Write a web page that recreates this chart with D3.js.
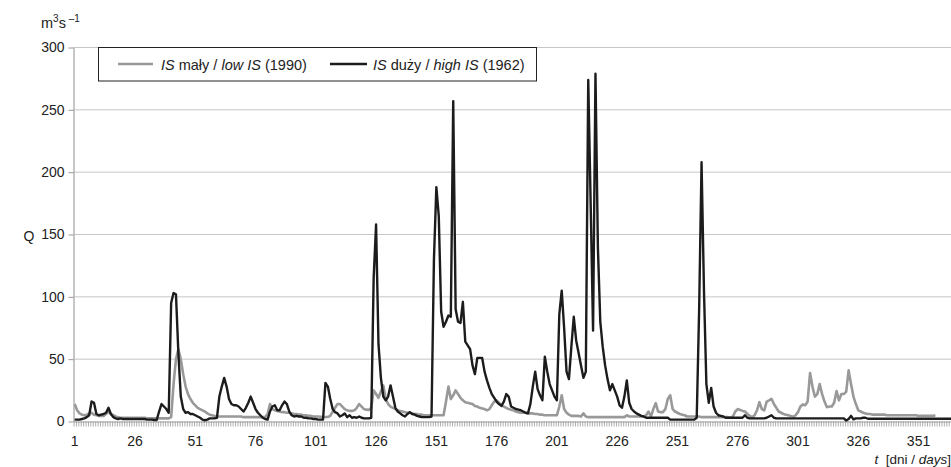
<!DOCTYPE html>
<html>
<head>
<meta charset="utf-8">
<script src="https://cdn.jsdelivr.net/npm/d3@7"></script>
<style>
  body { margin: 0; background: #fff; }
  svg { display: block; font-family: Arial, "Liberation Sans", sans-serif; }
</style>
</head>
<body>
<svg width="951" height="467"></svg>
<script>
// daily discharge Q [m3/s], day 1..n
// IS maly / low IS (1990)
const lowIS = [
  14, 9, 6.5, 5.5, 5, 5.5, 6.5, 7, 5.5, 5,
  4.5, 4.5, 4.5, 6, 8, 6, 5, 4, 3.5, 3,
  3, 3, 3, 3, 3, 3, 3, 3, 3, 3,
  2.5, 2.5, 2.5, 2.5, 2.5, 2.5, 2.5, 2.5, 2.5, 2.5,
  3.5, 30, 50, 58, 50, 38, 28, 22, 18, 15,
  13, 11, 10, 9, 8, 6.5, 5.5, 5, 4.5, 4,
  4, 4, 4, 4, 4, 4, 4, 4, 4, 4,
  3.5, 3.5, 3.5, 3.5, 3.5, 3.5, 3.5, 3.5, 3.5, 3.5,
  6, 14, 10, 9, 8.5, 8, 7.5, 7.5, 7, 7,
  6.5, 6, 6, 5.5, 5.5, 5, 5, 4.5, 4.5, 4,
  4, 4, 3.8, 3.6, 3.6, 3.6, 4.5, 8, 11, 14,
  14, 12, 10, 9, 8.5, 8.5, 9, 11, 14, 12,
  10, 9.5, 9.3, 11, 25, 22, 19, 24, 29, 18,
  14, 12, 11, 10, 9, 8.5, 8, 7.5, 7, 7,
  6.5, 6, 6, 5.5, 5.5, 5, 5, 5, 5, 5,
  5, 5, 5, 5, 16, 28, 18, 21, 25, 22,
  19, 17, 15.5, 15, 14.5, 14, 12.5, 12, 11, 10.5,
  10, 9, 10, 13, 16, 17, 15, 13, 12, 11,
  10, 9.5, 9, 8, 7.5, 7, 7, 7, 6.5, 6.5,
  6.5, 6, 6, 5.5, 5.5, 5, 5, 5, 5, 5,
  5, 12, 21, 10, 7, 5.5, 4.5, 4.5, 4.5, 4.5,
  4, 6.5, 4, 3.5, 3.5, 3.5, 3.5, 3.5, 3.5, 3.5,
  3.5, 3.5, 3.5, 3.5, 3.5, 3.5, 3.5, 3.5, 3.5, 5,
  4, 4, 4, 4, 4, 4, 4, 5, 8, 4,
  10, 14.7, 8, 7.5, 7.5, 10, 18, 21, 10, 8,
  7, 6, 5.5, 5, 4, 4, 4, 4, 4, 4,
  3.5, 3.5, 3.5, 3.5, 3.5, 3.5, 3.5, 3.5, 3.5, 3.5,
  3.5, 3.5, 3, 4, 8, 10, 9.3, 8.5, 8, 6,
  4.5, 3.5, 5, 9, 15.5, 10, 9, 16, 17, 18.2,
  14, 11, 8, 7, 6, 5.5, 5, 4.5, 3.7, 5,
  7.5, 12, 13.7, 13, 16, 38.9, 28, 20, 22, 30,
  22, 16, 11.5, 12, 12, 15, 24.4, 17, 22, 22,
  24, 41, 30, 20, 14, 9, 8, 7, 6.5, 6,
  6, 5.5, 5.5, 5.5, 5.5, 5.5, 5.5, 5, 5, 5,
  5, 5, 5, 5, 5, 5, 5, 5, 5, 5,
  4.5, 4.5, 4.5, 4.5, 4.5, 4.5, 4.5, 5
];

// IS duzy / high IS (1962)
const highIS = [
  1.5, 1.5, 1.5, 2, 2.5, 3.5, 5, 16, 15, 6,
  5, 5.5, 6, 7, 11, 6, 3.5, 2.5, 2, 2.5,
  2, 2, 2, 2, 2, 2, 2, 2, 2, 2,
  1.5, 1.5, 1.5, 1.2, 1.2, 8, 14, 12, 10, 7,
  95, 103, 102, 55, 20, 10, 7, 7.5, 6, 6,
  5, 4, 3, 1.5, 1, 1.5, 2.5, 2.5, 2.5, 3,
  20, 28, 35, 28, 18, 14, 13, 13, 12, 10,
  8, 11, 15, 20, 15, 10, 7, 5, 3, 2,
  1.5, 8, 12, 13, 9, 9, 13, 16, 14, 8,
  5, 4, 4.5, 4, 4, 3, 3, 2.5, 2.5, 2,
  2, 1.5, 1.5, 1.5, 31, 28, 18, 10, 7.5, 6.5,
  4, 5, 6.5, 3.5, 5, 3, 3.5, 3, 4, 3,
  2.5, 2.5, 2.5, 3, 115, 158, 62, 35, 20, 17,
  20, 29, 20, 11, 8, 6.5, 5, 4, 6, 7.5,
  6, 5.5, 4.5, 4, 3.5, 3.5, 3.5, 3.5, 4, 130,
  188, 165, 88, 76, 80, 85, 84, 257, 90, 80,
  79, 96, 64, 61, 58, 45, 38, 51, 51, 51,
  40, 33, 27, 22, 19, 16, 14, 12.5, 16, 22,
  20, 12, 11, 10, 9.5, 9, 8, 7, 6.5, 14,
  28, 40, 26, 21, 17, 52, 40, 30, 25, 20,
  17, 86, 105, 75, 40, 34, 60, 84, 65, 55,
  45, 35, 40, 274, 175, 73, 279, 140, 80, 60,
  45, 34, 25, 30, 25, 20, 13, 11, 20, 33,
  15, 10, 8, 6.5, 5.5, 4.5, 4, 3, 3, 3,
  3, 3, 3, 3, 3, 3, 3, 1.5, 1.5, 1.5,
  1.5, 1.5, 1.5, 1.5, 1.5, 1.5, 1.5, 1.5, 3, 90,
  208, 105, 30, 15, 27, 12, 7, 5, 4.5, 4,
  3, 3, 3, 3, 3, 3, 3, 3, 5, 3,
  2.5, 2.5, 2.5, 2.5, 2.5, 2.5, 2.5, 3, 4, 5,
  3, 2.5, 2.5, 2.5, 2.5, 2.5, 2.5, 2.5, 2.5, 2.5,
  2.5, 2.5, 2.5, 2.5, 2.5, 2.5, 2.5, 2.5, 2.5, 2.5,
  2.5, 2.5, 2.5, 2.5, 2.5, 2.5, 2.5, 2.5, 2.5, 2.5,
  0.8, 2, 4.5, 1.7, 2.5, 2.5, 2.5, 3, 3, 2.2,
  2.2, 2.2, 2.2, 2.2, 2.2, 2.2, 2.2, 2.2, 2.2, 2.2,
  2.2, 2.2, 2.2, 2.2, 2.2, 2.2, 2.2, 2.2, 2.2, 2.2,
  2.2, 2.2, 2.2, 2.2, 2.2, 2.2, 2.2, 2.2, 2.2, 2.2,
  2.2, 2.2, 2.2, 2.2, 2.2
];

const dayCount = 365;
const yTicks = [0, 50, 100, 150, 200, 250, 300];
const xLabels = [1, 26, 51, 76, 101, 126, 151, 176, 201, 226, 251, 276, 301, 326, 351];

const svg = d3.select("svg");
const W = 951;
const area = { left: 73.5, right: 953.5, top: 47.5, bottom: 421.5 };

const x = d3.scaleLinear().domain([0.5, dayCount + 0.5]).range([area.left, area.right]);
const y = d3.scaleLinear().domain([0, 300]).range([area.bottom, area.top]);

// gridlines
svg.append("g")
  .selectAll("line")
  .data(yTicks.filter(d => d > 0))
  .join("line")
  .attr("x1", area.left).attr("x2", W)
  .attr("y1", d => y(d)).attr("y2", d => y(d))
  .attr("stroke", "#8c8c8c")
  .attr("stroke-width", 1)
  .attr("stroke-dasharray", "1,1");

// y axis
const gy = svg.append("g")
  .attr("transform", `translate(${area.left},0)`)
  .call(d3.axisLeft(y).tickValues(yTicks).tickSize(5).tickSizeOuter(0).tickPadding(4));
gy.select(".domain").attr("stroke", "#b3b3b3").attr("stroke-width", 1.5);
gy.selectAll(".tick line").attr("stroke", "#999");
gy.selectAll(".tick text").attr("font-size", 14).attr("fill", "#222")
  .attr("font-family", "Arial, 'Liberation Sans', sans-serif");

// x axis: one tick per day boundary
const bounds = d3.range(0, dayCount + 1).map(i => i + 0.5);
const gx = svg.append("g")
  .attr("transform", `translate(0,${area.bottom})`)
  .call(d3.axisBottom(x).tickValues(bounds).tickSize(5).tickSizeOuter(0).tickFormat(""));
gx.select(".domain").attr("stroke", "#999").attr("stroke-width", 1.2);
gx.selectAll(".tick line").attr("stroke", "#9a9a9a").attr("stroke-width", 0.8);

svg.append("g")
  .selectAll("text")
  .data(xLabels)
  .join("text")
  .attr("x", d => x(d))
  .attr("y", 446)
  .attr("text-anchor", "middle")
  .attr("font-size", 14)
  .attr("fill", "#222")
  .text(d => d);

// series
const line = d3.line()
  .x((d, i) => x(i + 1))
  .y(d => y(d));

svg.append("path")
  .datum(lowIS)
  .attr("d", line)
  .attr("fill", "none")
  .attr("stroke", "#999999")
  .attr("stroke-width", 2.6)
  .attr("stroke-linejoin", "round");

svg.append("path")
  .datum(highIS)
  .attr("d", line)
  .attr("fill", "none")
  .attr("stroke", "#1c1c1c")
  .attr("stroke-width", 2.4)
  .attr("stroke-linejoin", "round");

// legend
const lg = svg.append("g");
lg.append("rect")
  .attr("x", 98.5).attr("y", 47.5)
  .attr("width", 438).attr("height", 33.5)
  .attr("fill", "#fff").attr("stroke", "#222").attr("stroke-width", 1);
lg.append("line")
  .attr("x1", 118).attr("x2", 153).attr("y1", 64).attr("y2", 64)
  .attr("stroke", "#999999").attr("stroke-width", 2.6);
lg.append("line")
  .attr("x1", 330).attr("x2", 367).attr("y1", 64).attr("y2", 64)
  .attr("stroke", "#1c1c1c").attr("stroke-width", 2.6);

const t1 = lg.append("text").attr("x", 161).attr("y", 69.5).attr("font-size", 14.5).attr("fill", "#222");
t1.append("tspan").attr("font-style", "italic").text("IS");
t1.append("tspan").text(" mały / ");
t1.append("tspan").attr("font-style", "italic").text("low IS");
t1.append("tspan").text(" (1990)");

const t2 = lg.append("text").attr("x", 373).attr("y", 69.5).attr("font-size", 14.5).attr("fill", "#222");
t2.append("tspan").attr("font-style", "italic").text("IS");
t2.append("tspan").text(" duży / ");
t2.append("tspan").attr("font-style", "italic").text("high IS");
t2.append("tspan").text(" (1962)");

// axis titles
const unit = svg.append("text").attr("x", 41).attr("y", 28).attr("font-size", 14.5).attr("fill", "#222")
  .attr("xml:space", "preserve");
unit.append("tspan").text("m");
unit.append("tspan").attr("font-size", 10).attr("dy", -6).text("3");
unit.append("tspan").attr("dy", 6).text("s");
unit.append("tspan").attr("font-size", 10).attr("dy", -6).text(" –1");

svg.append("text")
  .attr("x", 29).attr("y", 241)
  .attr("text-anchor", "middle")
  .attr("font-size", 14).attr("fill", "#222")
  .text("Q");

const xt = svg.append("text")
  .attr("x", 951).attr("y", 464)
  .attr("text-anchor", "end")
  .attr("font-size", 13.5).attr("fill", "#222")
  .attr("xml:space", "preserve");
xt.append("tspan").attr("font-style", "italic").text("t");
xt.append("tspan").text("  [dni / ");
xt.append("tspan").attr("font-style", "italic").text("days");
xt.append("tspan").text("]");
</script>
</body>
</html>
